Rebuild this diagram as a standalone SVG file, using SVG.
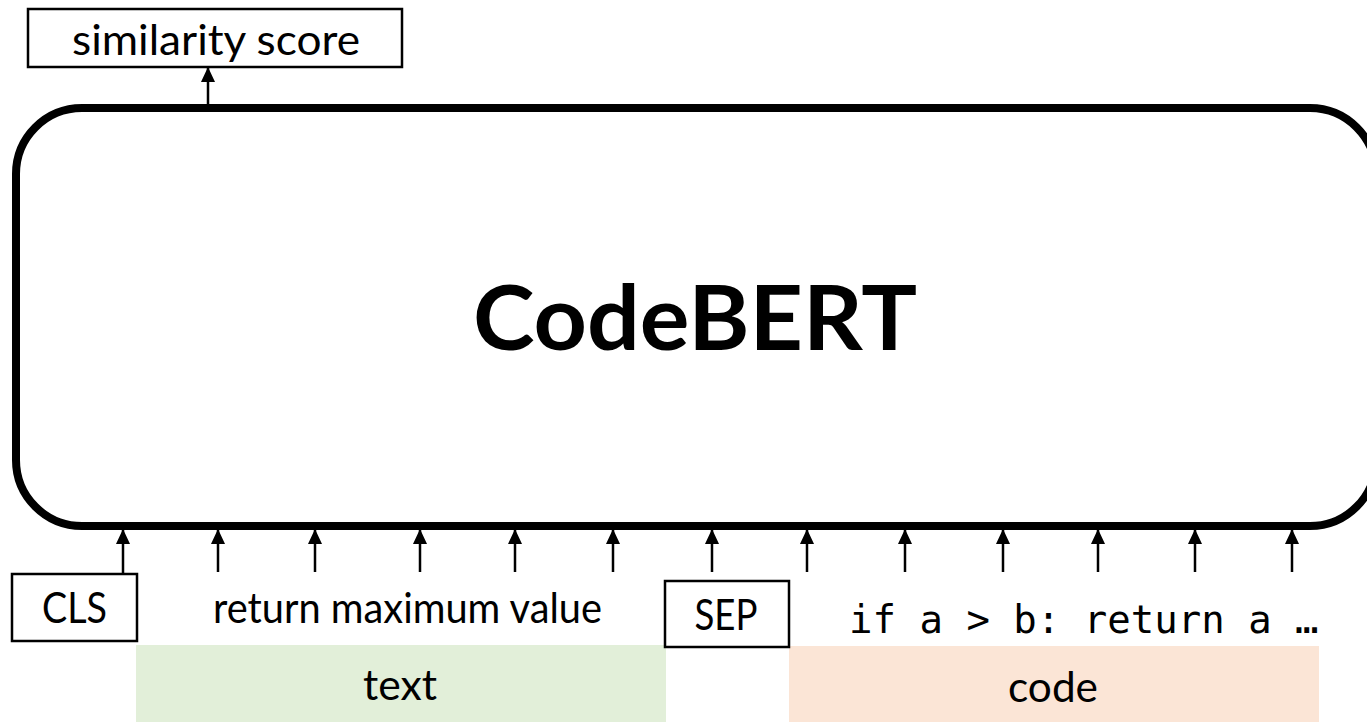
<svg xmlns="http://www.w3.org/2000/svg" width="1367" height="722" viewBox="0 0 1367 722">
<defs>
<marker id="ah" viewBox="0 0 15 14" refX="15" refY="7" markerWidth="15" markerHeight="14" markerUnits="userSpaceOnUse" orient="auto">
<path d="M0,0 L15,7 L0,14 z" fill="#000"/>
</marker>
<style>
.lbl{font-family:Lato,"Liberation Sans",sans-serif;font-size:42px;fill:#000;text-anchor:middle}
.mono{font-family:"DejaVu Sans Mono","Liberation Mono",monospace;font-size:39px;fill:#000}
.box{fill:#fff;stroke:#000;stroke-width:2.5}
.conn{stroke:#000;stroke-width:2.5;fill:none;marker-end:url(#ah)}
</style>
</defs>
<rect width="1367" height="722" fill="#fff"/>
<g id="text-band"><rect x="136" y="645" width="530" height="77" fill="#E2EFD9"/><text class="lbl" x="400" y="700" textLength="74" lengthAdjust="spacingAndGlyphs">text</text></g>
<g id="code-band"><rect x="789" y="646" width="530" height="76" fill="#FBE5D6"/><text class="lbl" x="1053" y="702" textLength="90" lengthAdjust="spacingAndGlyphs">code</text></g>
<g id="codebert"><rect x="16" y="108" width="1360" height="418" rx="66" ry="66" fill="#fff" stroke="#000" stroke-width="8"/><text x="695" y="350" font-family="Lato,'Liberation Sans',sans-serif" font-weight="bold" font-size="90" text-anchor="middle" textLength="444" lengthAdjust="spacingAndGlyphs">CodeBERT</text></g>
<g id="similarity"><rect class="box" x="28" y="9" width="374" height="58"/><text class="lbl" x="216" y="55" textLength="288" lengthAdjust="spacingAndGlyphs">similarity score</text></g>
<g id="cls"><rect class="box" x="12" y="574" width="125" height="67"/><text class="lbl" x="74.5" y="623" textLength="65" lengthAdjust="spacingAndGlyphs">CLS</text></g>
<g id="text-tokens"><text class="lbl" x="407.5" y="623" textLength="389" lengthAdjust="spacingAndGlyphs">return maximum value</text></g>
<g id="sep"><rect class="box" x="665" y="581" width="124" height="66"/><text class="lbl" x="726" y="630" textLength="63" lengthAdjust="spacingAndGlyphs">SEP</text></g>
<g id="code-tokens"><text class="mono" x="849" y="633">if a &gt; b: return a …</text></g>
<g id="connectors">
<line class="conn" x1="208" y1="104" x2="208" y2="67"/>
<line class="conn" x1="123" y1="574" x2="123" y2="529"/>
<line class="conn" x1="218" y1="572" x2="218" y2="529"/>
<line class="conn" x1="315" y1="572" x2="315" y2="529"/>
<line class="conn" x1="420" y1="572" x2="420" y2="529"/>
<line class="conn" x1="515" y1="572" x2="515" y2="529"/>
<line class="conn" x1="613" y1="572" x2="613" y2="529"/>
<line class="conn" x1="712" y1="572" x2="712" y2="529"/>
<line class="conn" x1="807" y1="572" x2="807" y2="529"/>
<line class="conn" x1="905" y1="572" x2="905" y2="529"/>
<line class="conn" x1="1003" y1="572" x2="1003" y2="529"/>
<line class="conn" x1="1098" y1="572" x2="1098" y2="529"/>
<line class="conn" x1="1195" y1="572" x2="1195" y2="529"/>
<line class="conn" x1="1292" y1="572" x2="1292" y2="529"/>
</g>
</svg>
